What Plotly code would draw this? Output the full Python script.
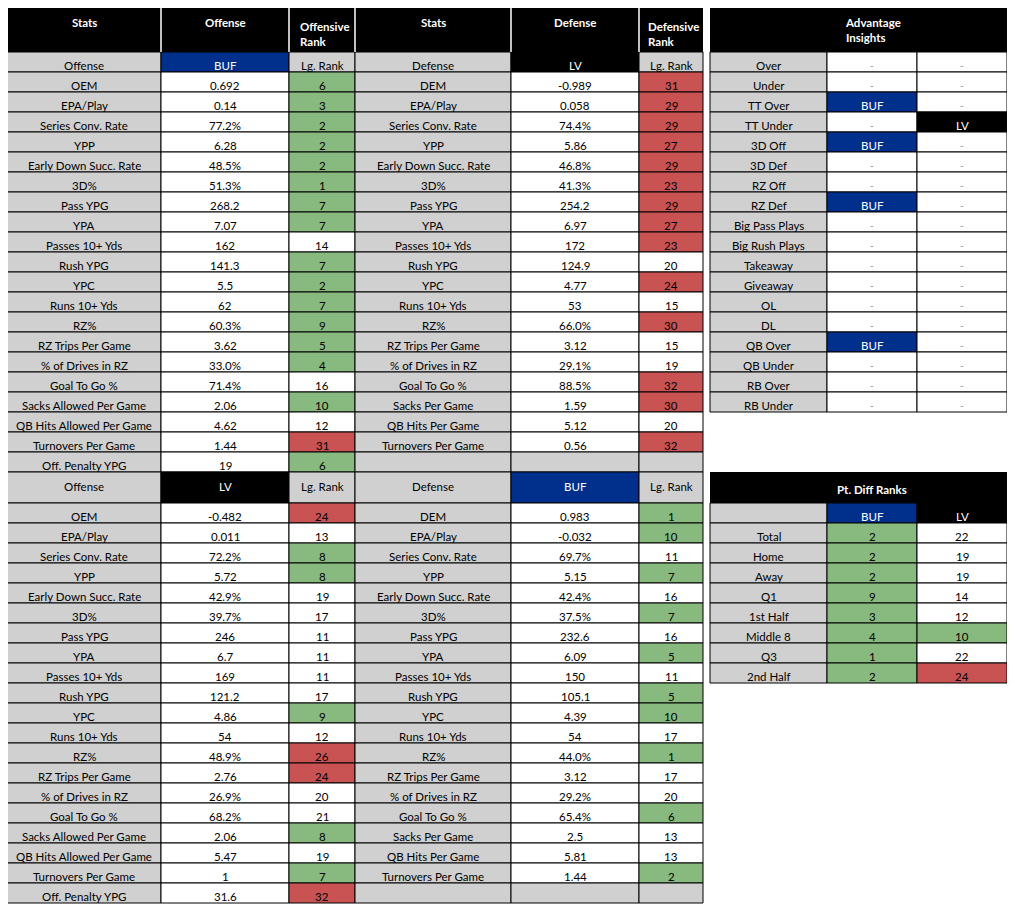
import plotly.graph_objects as go

# ---- data ----
off_stats = [
    "OEM", "EPA/Play", "Series Conv. Rate", "YPP", "Early Down Succ. Rate", "3D%",
    "Pass YPG", "YPA", "Passes 10+ Yds", "Rush YPG", "YPC", "Runs 10+ Yds", "RZ%",
    "RZ Trips Per Game", "% of Drives in RZ", "Goal To Go %", "Sacks Allowed Per Game",
    "QB Hits Allowed Per Game", "Turnovers Per Game", "Off. Penalty YPG",
]
def_stats = [
    "DEM", "EPA/Play", "Series Conv. Rate", "YPP", "Early Down Succ. Rate", "3D%",
    "Pass YPG", "YPA", "Passes 10+ Yds", "Rush YPG", "YPC", "Runs 10+ Yds", "RZ%",
    "RZ Trips Per Game", "% of Drives in RZ", "Goal To Go %", "Sacks Per Game",
    "QB Hits Per Game", "Turnovers Per Game",
]

buf_off_values = ["0.692", "0.14", "77.2%", "6.28", "48.5%", "51.3%", "268.2", "7.07", "162",
                  "141.3", "5.5", "62", "60.3%", "3.62", "33.0%", "71.4%", "2.06", "4.62",
                  "1.44", "19"]
buf_off_ranks = [6, 3, 2, 2, 2, 1, 7, 7, 14, 7, 2, 7, 9, 5, 4, 16, 10, 12, 31, 6]

lv_def_values = ["-0.989", "0.058", "74.4%", "5.86", "46.8%", "41.3%", "254.2", "6.97", "172",
                 "124.9", "4.77", "53", "66.0%", "3.12", "29.1%", "88.5%", "1.59", "5.12", "0.56"]
lv_def_ranks = [31, 29, 29, 27, 29, 23, 29, 27, 23, 20, 24, 15, 30, 15, 19, 32, 30, 20, 32]

lv_off_values = ["-0.482", "0.011", "72.2%", "5.72", "42.9%", "39.7%", "246", "6.7", "169",
                 "121.2", "4.86", "54", "48.9%", "2.76", "26.9%", "68.2%", "2.06", "5.47",
                 "1", "31.6"]
lv_off_ranks = [24, 13, 8, 8, 19, 17, 11, 11, 11, 17, 9, 12, 26, 24, 20, 21, 8, 19, 7, 32]

buf_def_values = ["0.983", "-0.032", "69.7%", "5.15", "42.4%", "37.5%", "232.6", "6.09", "150",
                  "105.1", "4.39", "54", "44.0%", "3.12", "29.2%", "65.4%", "2.5", "5.81", "1.44"]
buf_def_ranks = [1, 10, 11, 7, 16, 7, 16, 5, 11, 5, 10, 17, 1, 17, 20, 6, 13, 13, 2]

adv_labels = ["Over", "Under", "TT Over", "TT Under", "3D Off", "3D Def", "RZ Off", "RZ Def",
              "Big Pass Plays", "Big Rush Plays", "Takeaway", "Giveaway", "OL", "DL",
              "QB Over", "QB Under", "RB Over", "RB Under"]
adv_buf = ["-", "-", "BUF", "-", "BUF", "-", "-", "BUF", "-", "-", "-", "-", "-", "-",
           "BUF", "-", "-", "-"]
adv_lv = ["-", "-", "-", "LV", "-", "-", "-", "-", "-", "-", "-", "-", "-", "-",
          "-", "-", "-", "-"]

pt_labels = ["Total", "Home", "Away", "Q1", "1st Half", "Middle 8", "Q3", "2nd Half"]
pt_buf = [2, 2, 2, 9, 3, 4, 1, 2]
pt_lv = [22, 19, 19, 14, 12, 10, 22, 24]

# ---- styles ----
BLACK = "#000000"
WHITE = "#FFFFFF"
GRAY = "#D0D0D0"
GREEN = "#88B97F"
RED = "#C95353"
team_fill = {"BUF": "#00308C", "LV": BLACK}
FONT = "Lato"
FS = 11.5
PAGE_PAD = 8  # browser body margin, offset so the sheet sits at the window edge

fig = go.Figure()
shapes = []
notes = []


def cell(x0, x1, y0, y1, fill, border=True):
    shapes.append(dict(
        type="rect", xref="x", yref="y", x0=x0, x1=x1, y0=y0, y1=y1,
        fillcolor=fill, line=dict(color=BLACK if border else fill, width=1 if border else 0),
        layer="below",
    ))


def vline(x, y0, y1, color):
    shapes.append(dict(type="line", xref="x", yref="y", x0=x, x1=x, y0=y0, y1=y1,
                       line=dict(color=color, width=1.5)))


def text(x, y, s, color="#000000", bold=False, anchor="center", size=FS):
    notes.append(dict(
        x=x, y=y, xref="x", yref="y", text=f"<b>{s}</b>" if bold else s,
        showarrow=False, xanchor=anchor, yanchor="middle", align="left",
        font=dict(family=FONT, size=size, color=color),
    ))


def rank_fill(r):
    if r <= 10:
        return GREEN
    if r >= 23:
        return RED
    return WHITE


def draw_block(cols, team_top, team_h, row_top, title, team, stats, values, ranks, n_rows):
    x0, x1, x2, x3 = cols
    ty1 = team_top + team_h
    ty = team_top + 13 if team_h <= 20 else team_top + 14.5
    cell(x0, x1, team_top, ty1, GRAY)
    cell(x1, x2, team_top, ty1, team_fill[team])
    cell(x2, x3, team_top, ty1, GRAY)
    text((x0 + x1) / 2, ty, title)
    text((x1 + x2) / 2, ty, team, color=WHITE)
    text((x2 + x3) / 2, ty, "Lg. Rank")
    for i in range(n_rows):
        y0 = row_top + 20 * i
        y1 = y0 + 20
        yc = y0 + 13
        if i < len(stats):
            cell(x0, x1, y0, y1, GRAY)
            cell(x1, x2, y0, y1, WHITE)
            cell(x2, x3, y0, y1, rank_fill(ranks[i]))
            text((x0 + x1) / 2, yc, stats[i])
            text((x1 + x2) / 2, yc, values[i])
            text((x2 + x3) / 2, yc, str(ranks[i]))
        else:
            cell(x0, x1, y0, y1, GRAY)
            cell(x1, x2, y0, y1, GRAY)
            cell(x2, x3, y0, y1, GRAY)


off_cols = [7, 161, 289, 355]
def_cols = [355, 511, 639, 703]
adv_cols = [710, 827, 917, 1007]

# main header
cell(7, 703, 5, 52, BLACK, border=False)
for xs in [161, 289, 355, 511, 639]:
    vline(xs, 5, 52, WHITE)
text(84, 22, "Stats", WHITE, True)
text(225, 22, "Offense", WHITE, True)
text(298, 33.5, "Offensive<br>Rank", WHITE, True, anchor="left")
text(433, 22, "Stats", WHITE, True)
text(575, 22, "Defense", WHITE, True)
text(646, 33.5, "Defensive<br>Rank", WHITE, True, anchor="left")

draw_block(off_cols, 52, 20, 72, "Offense", "BUF", off_stats, buf_off_values, buf_off_ranks, 20)
draw_block(def_cols, 52, 20, 72, "Defense", "LV", def_stats, lv_def_values, lv_def_ranks, 20)
draw_block(off_cols, 472, 31, 503, "Offense", "LV", off_stats, lv_off_values, lv_off_ranks, 20)
draw_block(def_cols, 472, 31, 503, "Defense", "BUF", def_stats, buf_def_values, buf_def_ranks, 20)

# advantage insights
a0, a1, a2, a3 = adv_cols
cell(a0, a3, 5, 52, BLACK, border=False)
text(843, 29.5, "Advantage<br>Insights", WHITE, True, anchor="left")
for i, lab in enumerate(adv_labels):
    y0 = 52 + 20 * i
    y1 = y0 + 20
    yc = y0 + 13
    cell(a0, a1, y0, y1, GRAY)
    text((a0 + a1) / 2, yc, lab)
    for (c0, c1), v in [((a1, a2), adv_buf[i]), ((a2, a3), adv_lv[i])]:
        if v == "-":
            cell(c0, c1, y0, y1, WHITE)
            text((c0 + c1) / 2, yc, "-", color="#8a8a8a", size=10)
        else:
            cell(c0, c1, y0, y1, team_fill[v])
            text((c0 + c1) / 2, yc, v, color=WHITE)

# pt. diff ranks
cell(a0, a3, 472, 503, BLACK, border=False)
text((a1 + a2) / 2, 489, "Pt. Diff Ranks", WHITE, True)
cell(a0, a1, 503, 523, GRAY)
cell(a1, a2, 503, 523, team_fill["BUF"])
cell(a2, a3, 503, 523, team_fill["LV"])
text((a1 + a2) / 2, 516, "BUF", WHITE)
text((a2 + a3) / 2, 516, "LV", WHITE)
for i, lab in enumerate(pt_labels):
    y0 = 523 + 20 * i
    y1 = y0 + 20
    yc = y0 + 13
    cell(a0, a1, y0, y1, GRAY)
    cell(a1, a2, y0, y1, rank_fill(pt_buf[i]))
    cell(a2, a3, y0, y1, rank_fill(pt_lv[i]))
    text((a0 + a1) / 2, yc, lab)
    text((a1 + a2) / 2, yc, str(pt_buf[i]))
    text((a2 + a3) / 2, yc, str(pt_lv[i]))

fig.update_layout(
    width=1015,
    height=911,
    margin=dict(l=0, r=0, t=0, b=0),
    paper_bgcolor=WHITE,
    plot_bgcolor=WHITE,
    xaxis=dict(range=[PAGE_PAD, 1015 + PAGE_PAD], visible=False, fixedrange=True),
    yaxis=dict(range=[911 + PAGE_PAD, PAGE_PAD], visible=False, fixedrange=True),
    shapes=shapes,
    annotations=notes,
    showlegend=False,
)

fig.write_html("out.html")
